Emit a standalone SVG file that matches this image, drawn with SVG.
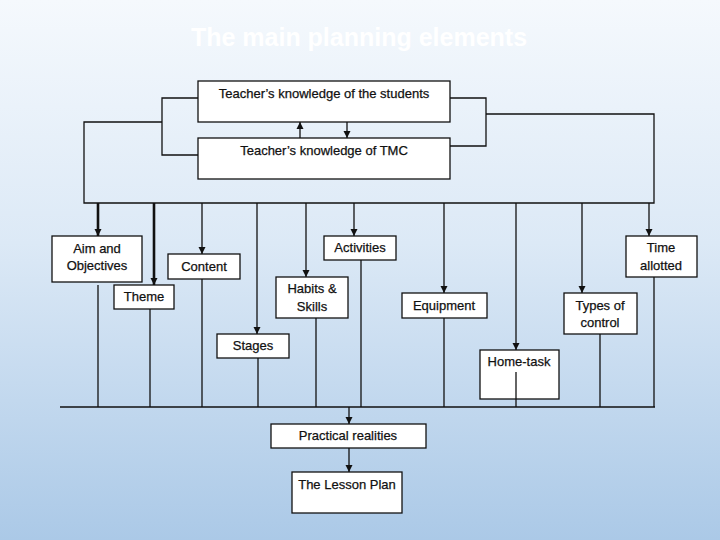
<svg xmlns="http://www.w3.org/2000/svg" width="720" height="540" viewBox="0 0 720 540">
  <defs>
    <linearGradient id="bg" x1="0" y1="0" x2="0" y2="1">
      <stop offset="0" stop-color="#f5f9fd"/>
      <stop offset="0.45" stop-color="#dce9f6"/>
      <stop offset="1" stop-color="#abc9e7"/>
    </linearGradient>
    <marker id="ah" markerWidth="8" markerHeight="8" refX="7" refY="4" orient="auto" markerUnits="userSpaceOnUse">
      <path d="M0,0.5 L7,4 L0,7.5 Z" fill="#111"/>
    </marker>
    <style>
      .box { fill: #ffffff; stroke: #111; stroke-width: 1.3; }
      .lbl { font-family: "Liberation Sans", Arial, sans-serif; font-size: 13px; fill: #111; text-anchor: middle; stroke: #111; stroke-width: 0.25; }
      .ln { fill: none; stroke: #111; stroke-width: 1.3; }
      .thick { fill: none; stroke: #111; stroke-width: 2.6; }
      .title { font-family: "Liberation Sans", Arial, sans-serif; font-size: 25px; font-weight: bold; fill: #ffffff; text-anchor: middle; }
    </style>
  </defs>
  <rect x="0" y="0" width="720" height="540" fill="url(#bg)"/>
  <text class="title" x="359" y="46">The main planning elements</text>

  <g id="nodes">
    <g id="n-students"><rect class="box" x="198" y="81" width="252" height="41"/><text class="lbl" x="324" y="98">Teacher’s knowledge of the students</text></g>
    <g id="n-tmc"><rect class="box" x="198" y="138" width="252" height="41"/><text class="lbl" x="324" y="155">Teacher’s knowledge of TMC</text></g>
    <g id="n-aim"><rect class="box" x="52" y="236" width="90" height="46"/><text class="lbl" x="97" y="253">Aim and</text><text class="lbl" x="97" y="270">Objectives</text></g>
    <g id="n-theme"><rect class="box" x="114" y="285" width="60" height="24"/><text class="lbl" x="144" y="301">Theme</text></g>
    <g id="n-content"><rect class="box" x="168" y="254" width="72" height="25"/><text class="lbl" x="204" y="271">Content</text></g>
    <g id="n-activities"><rect class="box" x="324" y="236" width="72" height="24"/><text class="lbl" x="360" y="252">Activities</text></g>
    <g id="n-habits"><rect class="box" x="276" y="277" width="72" height="41"/><text class="lbl" x="312" y="293">Habits &amp;</text><text class="lbl" x="312" y="311">Skills</text></g>
    <g id="n-stages"><rect class="box" x="217" y="334" width="72" height="24"/><text class="lbl" x="253" y="350">Stages</text></g>
    <g id="n-equipment"><rect class="box" x="402" y="293" width="85" height="25"/><text class="lbl" x="444" y="310">Equipment</text></g>
    <g id="n-hometask"><rect class="box" x="480" y="350" width="79" height="49"/><text class="lbl" x="519" y="366">Home-task</text></g>
    <g id="n-types"><rect class="box" x="564" y="293" width="73" height="41"/><text class="lbl" x="600" y="310">Types of</text><text class="lbl" x="600" y="327">control</text></g>
    <g id="n-time"><rect class="box" x="626" y="236" width="71" height="41"/><text class="lbl" x="661" y="252">Time</text><text class="lbl" x="661" y="270">allotted</text></g>
    <g id="n-practical"><rect class="box" x="271" y="424" width="155" height="24"/><text class="lbl" x="348" y="440">Practical realities</text></g>
    <g id="n-plan"><rect class="box" x="292" y="472" width="110" height="41"/><text class="lbl" x="347" y="489">The Lesson Plan</text></g>
  </g>

  <g id="connectors">
    <path class="ln" d="M198 98 H162 V155 H198"/>
    <path class="ln" d="M450 98 H486 V146 H450"/>
    <path class="ln" d="M162 122 H84 V203 H654 V114 H486"/>
    <path class="ln" d="M300 138 V122" marker-end="url(#ah)"/>
    <path class="ln" d="M347 122 V138" marker-end="url(#ah)"/>
    <path class="thick" d="M98 203 V236" marker-end="url(#ah)"/>
    <path class="thick" d="M154 203 V285" marker-end="url(#ah)"/>
    <path class="ln" d="M202 203 V254" marker-end="url(#ah)"/>
    <path class="ln" d="M257 203 V334" marker-end="url(#ah)"/>
    <path class="ln" d="M306 203 V277" marker-end="url(#ah)"/>
    <path class="ln" d="M354 203 V236" marker-end="url(#ah)"/>
    <path class="ln" d="M444 203 V293" marker-end="url(#ah)"/>
    <path class="ln" d="M516 203 V350" marker-end="url(#ah)"/>
    <path class="ln" d="M582 203 V293" marker-end="url(#ah)"/>
    <path class="ln" d="M649 203 V236" marker-end="url(#ah)"/>
    <path class="ln" d="M98 285 V407"/>
    <path class="ln" d="M150 309 V407"/>
    <path class="ln" d="M202 279 V407"/>
    <path class="ln" d="M258 358 V407"/>
    <path class="ln" d="M316 318 V407"/>
    <path class="ln" d="M361 260 V407"/>
    <path class="ln" d="M444 318 V407"/>
    <path class="ln" d="M516 372 V407"/>
    <path class="ln" d="M600 334 V407"/>
    <path class="ln" d="M654 277 V407"/>
    <path class="ln" d="M60 407 H655"/>
    <path class="ln" d="M349 407 V424" marker-end="url(#ah)"/>
    <path class="ln" d="M349 448 V472" marker-end="url(#ah)"/>
  </g>
</svg>
